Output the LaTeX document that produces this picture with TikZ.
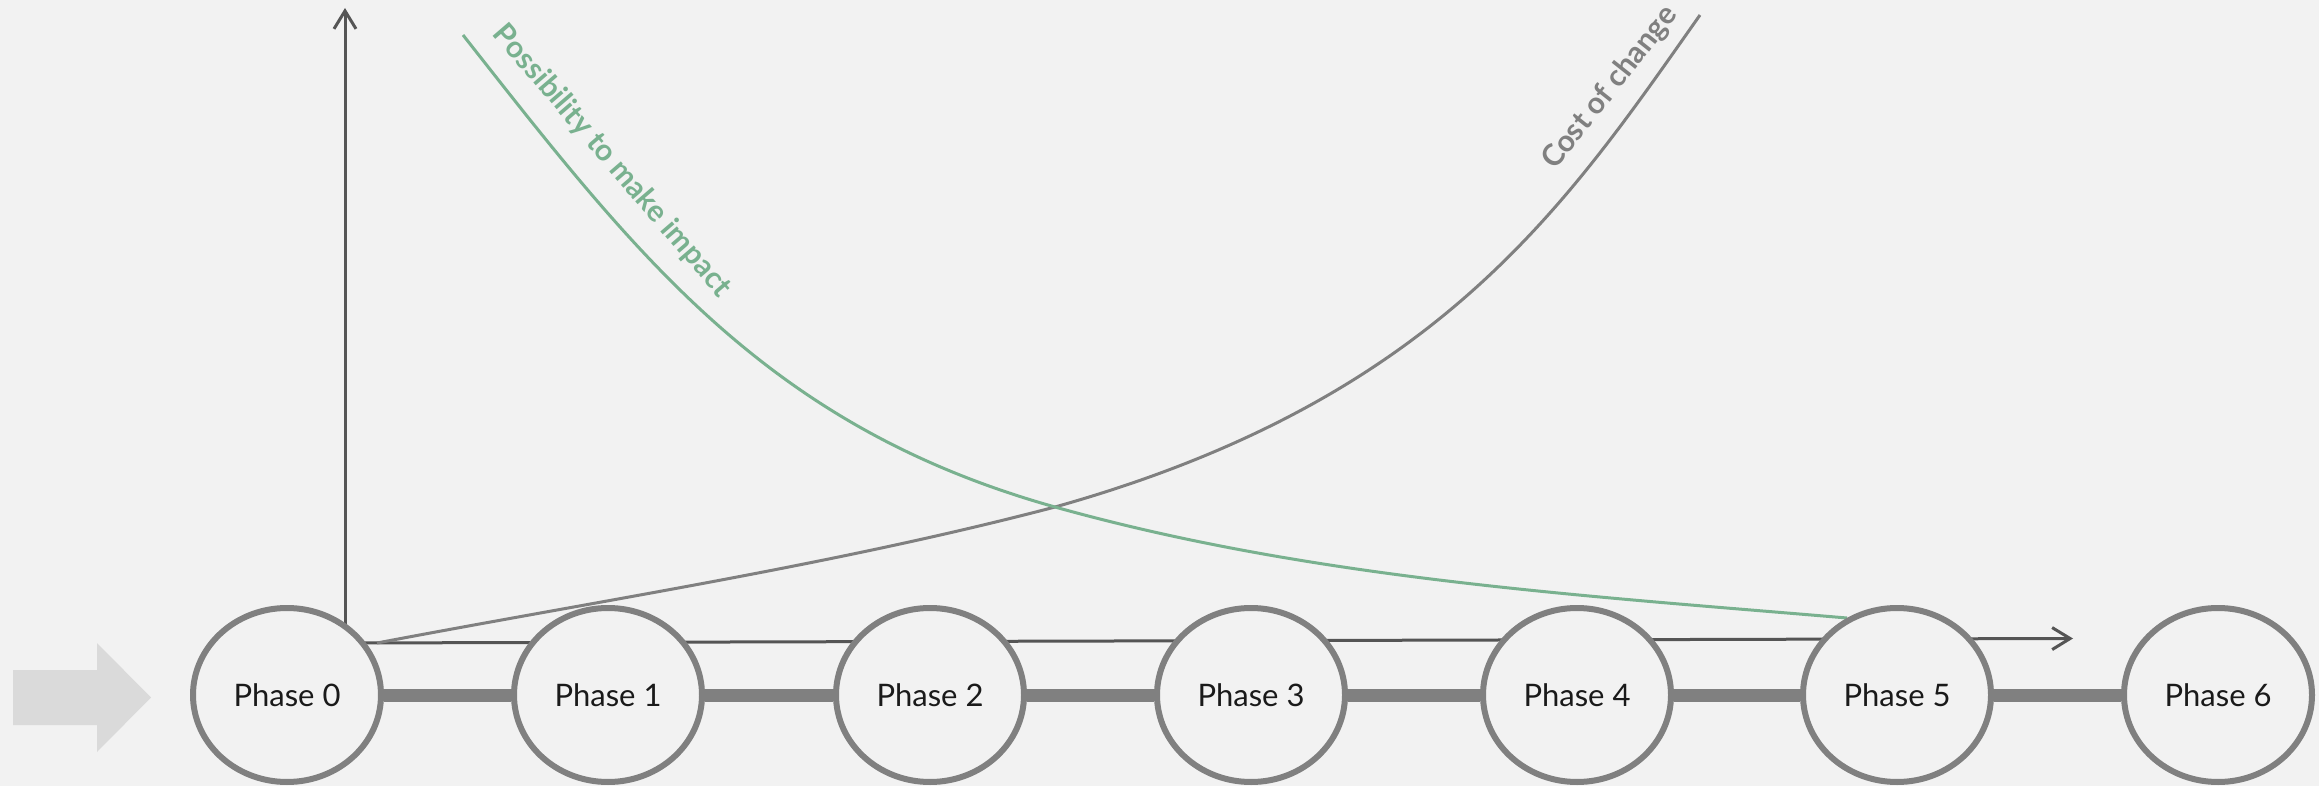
\documentclass[tikz,border=0pt]{standalone}
\usepackage{fontspec}
\setmainfont{Lato}
\usetikzlibrary{arrows.meta,shapes.geometric}
\definecolor{bgc}{HTML}{F2F2F2}
\definecolor{ringc}{HTML}{808080}
\definecolor{axisc}{HTML}{555555}
\definecolor{greenc}{HTML}{79B18F}
\definecolor{costc}{HTML}{808080}
\definecolor{bigarrowc}{HTML}{DADADA}
\definecolor{txtc}{HTML}{1A1A1A}
\tikzset{
  phase/.style={ellipse, draw=ringc, line width=6pt, fill=bgc, inner sep=0pt,
    minimum width=188pt, minimum height=174pt, text=txtc,
    font=\fontsize{31}{36}\selectfont},
  link/.style={draw=ringc, line width=13pt},
  axisline/.style={draw=axisc, line width=3pt, -{Straight Barb[length=18pt,width=22pt]}},
  curvelabel/.style={font=\bfseries\fontsize{30}{34}\selectfont, inner sep=0pt}
}
\begin{document}
\begin{tikzpicture}[x=1pt,y=-1pt]
\fill[bgc] (0,0) rectangle (2319,786);
\useasboundingbox (0,0) rectangle (2319,786);
% big entry arrow
\fill[bigarrowc] (13,670) -- (97,670) -- (97,643) -- (151,697.5) -- (97,752) -- (97,725) -- (13,725) -- cycle;
% axes
\coordinate (origin) at (345,643);
\coordinate (ytop) at (345,8);
\coordinate (xend) at (2073,638.5);
\draw[axisline] (origin) -- (ytop);
\draw[axisline] (origin) -- (xend);
% curves
\draw[costc, line width=3pt] (377,643) .. controls (603,600) and (834,565) .. (1055,507)
  .. controls (1440,399) and (1567.5,203) .. (1700,15);
\draw[greenc, line width=3pt] (463,35) .. controls (636,255) and (766,426) .. (1055,507)
  .. controls (1312,579) and (1581,595.4) .. (1847,618);
% labels
\node[curvelabel, text=greenc, rotate=-49.3] (lblimpact) at (612,161) {Possibility to make impact};
\node[curvelabel, text=costc, rotate=51.6] (lblcost) at (1610,88) {Cost of change};
% phases
\node[phase] (p0) at (287,695) {Phase 0};
\node[phase] (p1) at (608,695) {Phase 1};
\node[phase] (p2) at (930,695) {Phase 2};
\node[phase] (p3) at (1251,695) {Phase 3};
\node[phase] (p4) at (1577,695) {Phase 4};
\node[phase] (p5) at (1897,695) {Phase 5};
\node[phase] (p6) at (2218,695) {Phase 6};
\draw[link] (p0) -- (p1);
\draw[link] (p1) -- (p2);
\draw[link] (p2) -- (p3);
\draw[link] (p3) -- (p4);
\draw[link] (p4) -- (p5);
\draw[link] (p5) -- (p6);
\end{tikzpicture}
\end{document}
